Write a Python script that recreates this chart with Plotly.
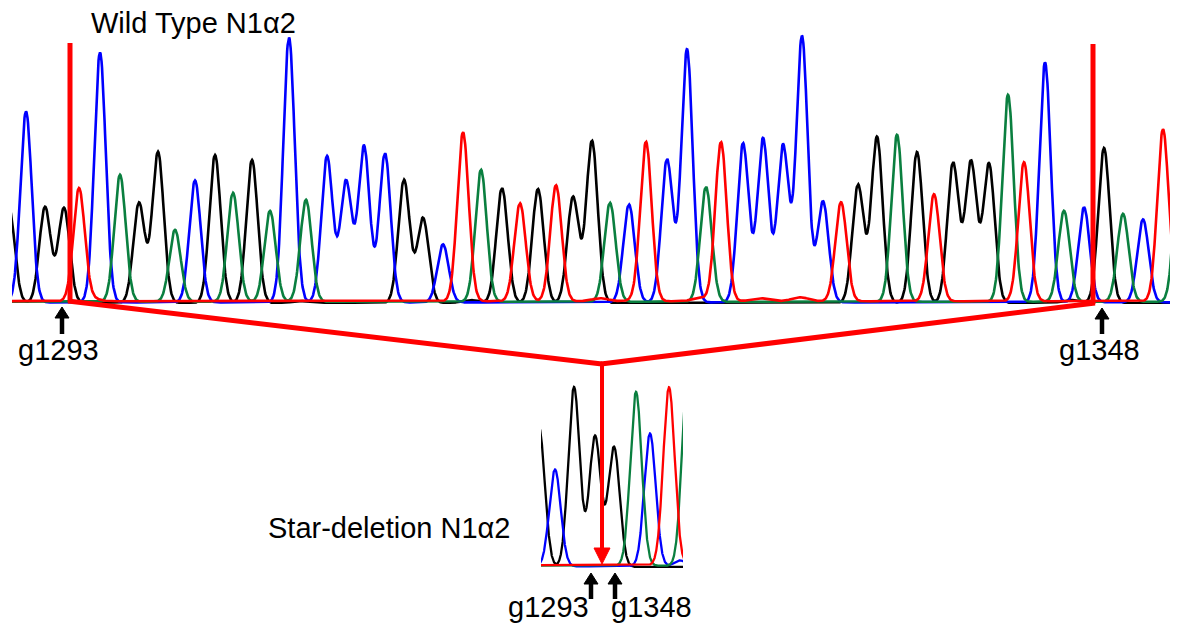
import numpy as np
import plotly.graph_objects as go

# ---------------- data ----------------
# Wild type trace: peak scan positions, heights (signal) and base
wt_pos = [9, 26, 45, 64, 79, 100, 120, 139, 158, 175, 195, 215, 233, 252, 270, 289,
          306, 327, 346, 364, 385, 404, 423, 443, 463, 481, 502, 520, 538, 556, 573, 592,
          610, 629, 646, 667, 687, 706, 721, 743, 763, 783, 802, 823, 841, 858, 877, 897,
          917, 934, 953, 971, 989, 1008, 1024, 1045, 1064, 1084, 1104, 1123, 1143, 1163, 1180]
wt_height = [95, 191, 96, 95, 112, 250, 127, 100, 151, 72, 122, 148, 109, 143, 91, 265,
             102, 146, 121, 156, 149, 123, 85, 58, 169, 132, 115, 98, 114, 116, 106, 162,
             99, 98, 158, 143, 253, 115, 159, 159, 164, 157, 266, 101, 99, 118, 166, 167,
             151, 107, 140, 141, 139, 207, 139, 240, 91, 95, 155, 88, 83, 172, 150]
wt_base = list("KBKKRBGKKGBKGKGBGBBBBKKBRGKRKRKKGBRBBGRBBBBBRKKGKRKKKGRBGBKGBRG")

# small baseline bumps of the wild type trace
wt_noise_pos = [90, 300, 470, 600, 640, 700, 760, 800, 1070]
wt_noise_height = [3, 2, 3, 3, 2, 3, 3, 4, 3]
wt_noise_base = list("RKKRRRRRK")

# Star-deletion trace
sd_pos = [539, 555, 574, 595, 614, 636, 650, 669, 680, 688]
sd_height = [140, 97, 180, 131, 120, 174, 133, 178, 6, 205]
sd_base = list("KBKKKGBRBG")

colors = {"B": "#0000ff", "K": "#000000", "G": "#0a7f3f", "R": "#ff0000"}
baseline = {"K": 0.0, "B": 0.6, "G": 1.2, "R": 1.8}
SIGMA = 5.7

# page offset of the plot div (default body margin) is compensated here
OFF = 8
W, H = 1178 - OFF, 628 - OFF


def px(x):
    return (x - OFF) / W


def py(y):
    return 1 - (y - OFF) / H


def traces(pos, height, base, npos, nheight, nbase, lo, hi, xa, ya, width):
    xs = np.linspace(lo, hi, 2400)
    out = []
    for b in ["K", "B", "G", "R"]:
        ys = np.zeros_like(xs) + 1.0 + baseline[b]
        for p, h, c in zip(pos, height, base):
            if c == b:
                ys += h * np.exp(-((xs - p) ** 2) / (2 * SIGMA ** 2))
        for p, h, c in zip(npos, nheight, nbase):
            if c == b:
                ys += h * np.exp(-((xs - p) ** 2) / (2 * (SIGMA * 1.4) ** 2))
        out.append(go.Scatter(x=xs, y=ys, mode="lines", xaxis=xa, yaxis=ya,
                              line=dict(color=colors[b], width=width),
                              hoverinfo="skip", showlegend=False))
    return out


fig = go.Figure()
for t in traces(wt_pos, wt_height, wt_base, wt_noise_pos, wt_noise_height, wt_noise_base,
                0, 1200, "x", "y", 2.6):
    fig.add_trace(t)
for t in traces(sd_pos, sd_height, sd_base, [], [], [], 520, 700, "x2", "y2", 2.3):
    fig.add_trace(t)

axis_off = dict(visible=False, showgrid=False, zeroline=False, fixedrange=True)
fig.update_layout(
    width=W, height=H, margin=dict(l=0, r=0, t=0, b=0),
    paper_bgcolor="white", plot_bgcolor="rgba(0,0,0,0)",
    xaxis=dict(domain=[px(12), 1], range=[12, 1178], **axis_off),
    yaxis=dict(domain=[py(304), 1], range=[0, 304 - OFF], **axis_off),
    xaxis2=dict(domain=[px(541), px(683)], range=[541, 683], **axis_off),
    yaxis2=dict(domain=[py(568), py(360)], range=[0, 208], **axis_off),
)

RED = "#ff0000"
shapes = []


def seg(x0, y0, x1, y1, color, w):
    shapes.append(dict(type="line", xref="paper", yref="paper",
                       x0=px(x0), y0=py(y0), x1=px(x1), y1=py(y1),
                       line=dict(color=color, width=w)))


def tri(pts, color):
    d = "M " + " L ".join(f"{px(a)},{py(b)}" for a, b in pts) + " Z"
    shapes.append(dict(type="path", xref="paper", yref="paper", path=d,
                       fillcolor=color, line=dict(color=color, width=1)))


# red markers / funnel
seg(70, 43, 70, 302, RED, 5)
seg(1093, 44, 1093, 304, RED, 5)
seg(68, 301, 602, 364, RED, 5)
seg(1095, 303, 601, 364, RED, 5)
seg(602, 362, 602, 550, RED, 4)
tri([(594, 548), (610, 548), (602, 564)], RED)


# black arrows
def up_arrow(x, tip, bottom):
    seg(x, tip + 9, x, bottom, "black", 4.5)
    tri([(x - 7, tip + 11), (x + 7, tip + 11), (x, tip)], "black")


up_arrow(62, 307, 334)
up_arrow(1102, 308, 334)
up_arrow(591, 573, 599)
up_arrow(615, 573, 599)

fig.update_layout(shapes=shapes)

FONT = dict(family="Liberation Sans, Arial, sans-serif", size=29, color="black")
labels = [
    ("Wild Type N1\u03b12", 89, 23),
    ("g1293", 16, 350),
    ("g1348", 1057, 350),
    ("Star-deletion N1\u03b12", 266, 528),
    ("g1293", 506, 607),
    ("g1348", 609, 607),
]
for text, x, y in labels:
    fig.add_annotation(text=text, xref="paper", yref="paper", x=px(x), y=py(y),
                       xanchor="left", yanchor="middle", showarrow=False, font=FONT)

fig.write_html("out.html")
